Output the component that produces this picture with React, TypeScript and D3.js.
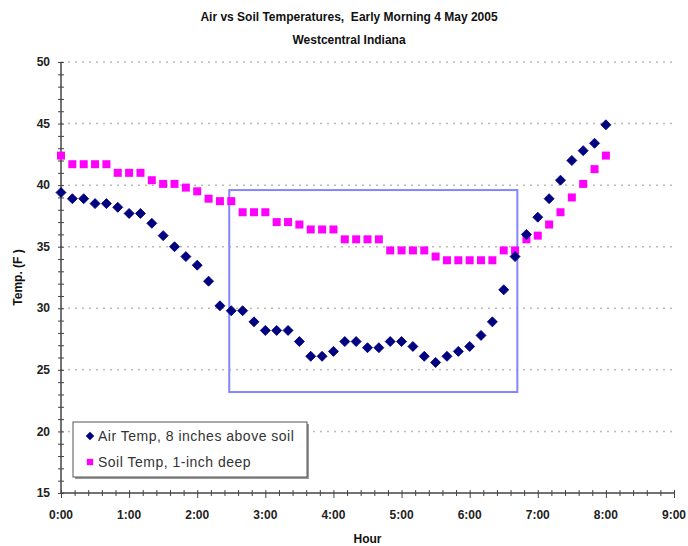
import { useEffect, useRef } from "react"
import * as d3 from "d3"

// readings every 10 minutes from 0:00 to 8:00
const hours = d3.range(49).map((i) => i / 6)

const airTemp = [
  39.4, 38.9, 38.9, 38.5, 38.5, 38.2, 37.7, 37.7, 36.9, 35.9, 35.0, 34.2, 33.5,
  32.2, 30.2, 29.8, 29.8, 28.9, 28.2, 28.2, 28.2, 27.3, 26.1, 26.1, 26.5, 27.3,
  27.3, 26.8, 26.8, 27.3, 27.3, 26.9, 26.1, 25.6, 26.1, 26.5, 26.9, 27.8, 28.9,
  31.5, 34.2, 36.0, 37.4, 38.9, 40.4, 42.0, 42.8, 43.4, 44.9,
]

const soilTemp = [
  42.4, 41.7, 41.7, 41.7, 41.7, 41.0, 41.0, 41.0, 40.4, 40.1, 40.1, 39.8, 39.5,
  38.9, 38.7, 38.7, 37.8, 37.8, 37.8, 37.0, 37.0, 36.8, 36.4, 36.4, 36.4, 35.6,
  35.6, 35.6, 35.6, 34.7, 34.7, 34.7, 34.7, 34.2, 33.9, 33.9, 33.9, 33.9, 33.9,
  34.7, 34.7, 35.6, 35.9, 36.8, 37.8, 39.0, 40.1, 41.3, 42.4,
]

const yTicks = [15, 20, 25, 30, 35, 40, 45, 50]
const xTicks = [0, 1, 2, 3, 4, 5, 6, 7, 8, 9]

// highlight box drawn on the chart (hour / temp corners)
const boxHours = [2.47, 6.7]
const boxTemps = [23.2, 39.6]

const seriesNames = ["Air Temp, 8 inches above soil", "Soil Temp, 1-inch deep"]

const W = 688
const H = 546
const margin = { top: 62, right: 14, bottom: 53, left: 61 }
const FONT = "'Liberation Sans', Arial, sans-serif"

const fmtHour = (h: number) => `${h}:00`

const App = () => {
  const ref = useRef<SVGSVGElement>(null)

  useEffect(() => {
    const svg = d3.select(ref.current)
    svg.selectAll("*").remove()

    const x = d3
      .scaleLinear()
      .domain([0, 9])
      .range([margin.left, W - margin.right])
    const y = d3
      .scaleLinear()
      .domain([15, 50])
      .range([H - margin.bottom, margin.top])

    svg.append("rect").attr("width", W).attr("height", H).attr("fill", "#fff")

    // title
    const title = svg
      .append("g")
      .attr("font-family", FONT)
      .attr("font-weight", "bold")
      .attr("font-size", 12)
      .attr("text-anchor", "middle")
      .attr("fill", "#111")
    title
      .append("text")
      .attr("x", 349)
      .attr("y", 21)
      .attr("xml:space", "preserve")
      .text("Air vs Soil Temperatures,  Early Morning 4 May 2005")
    title.append("text").attr("x", 349).attr("y", 44).text("Westcentral Indiana")

    // gridlines
    svg
      .append("g")
      .selectAll("line")
      .data(yTicks.slice(1))
      .join("line")
      .attr("x1", x(0))
      .attr("x2", x(9))
      .attr("y1", (d) => y(d))
      .attr("y2", (d) => y(d))
      .attr("stroke", "#bbb")
      .attr("stroke-width", 1.5)
      .attr("stroke-dasharray", "2,5")

    // y axis
    const yAxis = svg.append("g").attr("transform", `translate(${x(0)},0)`)
    yAxis
      .call(
        d3
          .axisLeft(y)
          .tickValues(d3.range(15, 51))
          .tickSize(3)
          .tickFormat(() => "") as any
      )
      .call((g) => g.select(".domain").remove())
    yAxis
      .selectAll(".tick line")
      .attr("x2", 3)
      .attr("x1", -3)
      .attr("stroke", "#444")
    yAxis
      .append("line")
      .attr("y1", y(15))
      .attr("y2", y(50))
      .attr("stroke", "#444")
      .attr("stroke-width", 1.5)
    yAxis
      .selectAll(".major")
      .data(yTicks)
      .join("text")
      .attr("x", -11)
      .attr("y", (d) => y(d))
      .attr("dy", "0.35em")
      .attr("text-anchor", "end")
      .attr("font-family", FONT)
      .attr("font-weight", "bold")
      .attr("font-size", 12)
      .attr("fill", "#222")
      .text((d) => d)

    // x axis
    const xAxis = svg
      .append("g")
      .attr("transform", `translate(0,${y(15)})`)
    xAxis
      .call(
        d3
          .axisBottom(x)
          .tickValues(d3.range(0, 46).map((i) => i / 5))
          .tickFormat(() => "") as any
      )
      .call((g) => g.select(".domain").remove())
    xAxis
      .selectAll(".tick line")
      .attr("y1", -3)
      .attr("y2", (d: any) => (Math.abs(d - Math.round(d)) < 1e-6 ? 5 : 3))
      .attr("stroke", "#444")
    xAxis
      .append("line")
      .attr("x1", x(0))
      .attr("x2", x(9))
      .attr("stroke", "#444")
      .attr("stroke-width", 1.5)
    xAxis
      .selectAll(".major")
      .data(xTicks)
      .join("text")
      .attr("x", (d) => x(d))
      .attr("y", 26)
      .attr("text-anchor", "middle")
      .attr("font-family", FONT)
      .attr("font-weight", "bold")
      .attr("font-size", 12)
      .attr("fill", "#222")
      .text((d) => fmtHour(d))

    // axis titles
    svg
      .append("text")
      .attr("x", (x(0) + x(9)) / 2)
      .attr("y", 543)
      .attr("text-anchor", "middle")
      .attr("font-family", FONT)
      .attr("font-weight", "bold")
      .attr("font-size", 12)
      .attr("fill", "#111")
      .text("Hour")
    svg
      .append("text")
      .attr("transform", `translate(22,${(y(15) + y(50)) / 2}) rotate(-90)`)
      .attr("text-anchor", "middle")
      .attr("font-family", FONT)
      .attr("font-weight", "bold")
      .attr("font-size", 12)
      .attr("fill", "#111")
      .text("Temp. (F )")

    // highlight box
    svg
      .append("rect")
      .attr("x", x(boxHours[0]))
      .attr("y", y(boxTemps[1]))
      .attr("width", x(boxHours[1]) - x(boxHours[0]))
      .attr("height", y(boxTemps[0]) - y(boxTemps[1]))
      .attr("fill", "none")
      .attr("stroke", "#8585ff")
      .attr("stroke-width", 2)

    // soil squares
    const square = d3.symbol().type(d3.symbolSquare).size(64)
    svg
      .append("g")
      .selectAll("path")
      .data(hours)
      .join("path")
      .attr("d", square)
      .attr("transform", (d, i) => `translate(${x(d)},${y(soilTemp[i])})`)
      .attr("fill", "#ff00ff")

    // air diamonds (square turned 45 degrees)
    const diamond = d3.symbol().type(d3.symbolSquare).size(50)
    svg
      .append("g")
      .selectAll("path")
      .data(hours)
      .join("path")
      .attr("d", diamond)
      .attr(
        "transform",
        (d, i) => `translate(${x(d)},${y(airTemp[i])}) rotate(45)`
      )
      .attr("fill", "#000080")
      .attr("stroke", "#000080")
      .attr("stroke-width", 0.8)
      .attr("stroke-linejoin", "round")

    // legend
    const lg = svg.append("g").attr("transform", "translate(73,422)")
    lg.append("rect")
      .attr("x", 2)
      .attr("y", 2)
      .attr("width", 234)
      .attr("height", 55)
      .attr("fill", "#999")
    lg.append("rect")
      .attr("width", 234)
      .attr("height", 55)
      .attr("fill", "#fff")
      .attr("stroke", "#555")
      .attr("stroke-width", 1)
    lg.append("path")
      .attr("d", d3.symbol().type(d3.symbolSquare).size(36)())
      .attr("transform", "translate(17,14) rotate(45)")
      .attr("fill", "#000080")
    lg.append("path")
      .attr("d", d3.symbol().type(d3.symbolSquare).size(40)())
      .attr("transform", "translate(17,40)")
      .attr("fill", "#ff00ff")
    lg.selectAll("text")
      .data(seriesNames)
      .join("text")
      .attr("x", 25)
      .attr("y", (d, i) => 14 + i * 26)
      .attr("dy", "0.35em")
      .attr("font-family", FONT)
      .attr("font-size", 14)
      .attr("letter-spacing", 0.5)
      .attr("fill", "#333")
      .text((d) => d)
  }, [])

  return (
    <svg
      ref={ref}
      width={W}
      height={H}
      style={{ position: "absolute", left: 0, top: 0, display: "block" }}
    />
  )
}

export default App
